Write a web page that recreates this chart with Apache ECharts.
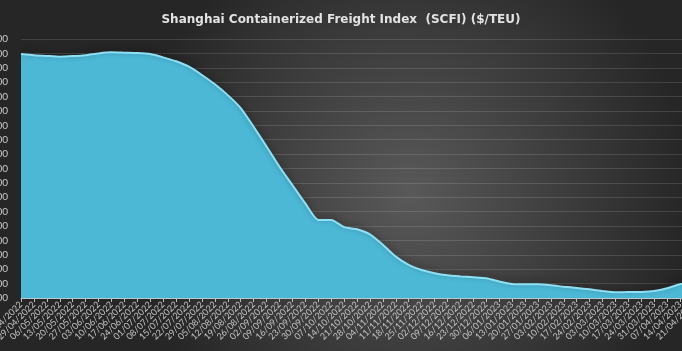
<!DOCTYPE html>
<html>
<head>
<meta charset="utf-8">
<title>SCFI</title>
<script src="https://cdn.jsdelivr.net/npm/echarts@6/dist/echarts.min.js"></script>
<style>
    html, body { margin: 0; padding: 0; background: #2a2a2a; }
    #chart { width: 682px; height: 351px; }
</style>
</head>
<body>
<div id="chart"></div>
<script>
// weekly dates (Friday release)
var dates = ['22/04/2022','29/04/2022','06/05/2022','13/05/2022','20/05/2022','27/05/2022',
    '03/06/2022','10/06/2022','17/06/2022','24/06/2022','01/07/2022','08/07/2022','15/07/2022',
    '22/07/2022','29/07/2022','05/08/2022','12/08/2022','19/08/2022','26/08/2022','02/09/2022',
    '09/09/2022','16/09/2022','23/09/2022','30/09/2022','07/10/2022','14/10/2022','21/10/2022',
    '28/10/2022','04/11/2022','11/11/2022','18/11/2022','25/11/2022','02/12/2022','09/12/2022',
    '16/12/2022','23/12/2022','30/12/2022','06/01/2023','13/01/2023','20/01/2023','27/01/2023',
    '03/02/2023','10/02/2023','17/02/2023','24/02/2023','03/03/2023','10/03/2023','17/03/2023',
    '24/03/2023','31/03/2023','07/04/2023','14/04/2023','21/04/2023'];

// SCFI values ($/TEU)
var scfi = [4192,4175,4164,4155,4162,4175,4200,4215,4210,4205,4190,4145,4090,
    4015,3900,3770,3620,3440,3180,2905,2625,2370,2115,1885,1885,1785,1755,
    1685,1540,1375,1260,1190,1145,1115,1100,1088,1075,1030,995,990,990,
    977,957,940,920,898,880,882,884,897,935,990,1035];

// value axis
var yMin = 800;
var yMax = 4400;
var yStep = 200;

var myChart = echarts.init(document.getElementById('chart'));

var option = {
    backgroundColor: {
        type: 'radial', x: 0.6, y: 0.55, r: 0.8,
        colorStops: [
            { offset: 0, color: '#595959' },
            { offset: 1, color: '#262626' }
        ]
    },
    title: {
        text: 'Shanghai Containerized Freight Index  (SCFI) ($/TEU)',
        left: 'center',
        top: 9,
        textStyle: {
            color: '#e2e2e2',
            fontFamily: 'DejaVu Sans',
            fontWeight: 'bold',
            fontSize: 12
        }
    },
    // plot area runs past the right edge, the picture is cropped there
    grid: {
        left: 21,
        right: -11,
        top: 39,
        bottom: 53,
        outerBoundsMode: 'none'
    },
    xAxis: {
        type: 'category',
        data: dates,
        boundaryGap: false,
        axisLine: { lineStyle: { color: '#b8c8ce', width: 1 } },
        axisTick: { show: true, length: 4, interval: 0, lineStyle: { color: '#b8c0c4' } },
        axisLabel: {
            interval: 0,
            rotate: 45,
            margin: 5,
            color: '#c4c4c4',
            fontSize: 9,
            fontFamily: 'Lato'
        },
        splitLine: { show: false }
    },
    yAxis: {
        type: 'value',
        min: yMin,
        max: yMax,
        interval: yStep,
        axisLine: { show: false },
        axisTick: { show: false },
        axisLabel: {
            margin: 13,
            color: '#c8c8c8',
            fontSize: 10,
            fontFamily: 'Lato'
        },
        splitLine: { lineStyle: { color: 'rgba(255,255,255,0.13)', width: 1 } }
    },
    series: [{
        name: 'SCFI',
        type: 'line',
        data: scfi,
        symbol: 'none',
        smooth: 0.2,
        lineStyle: {
            color: '#8ee0f4',
            width: 2,
            shadowColor: 'rgba(0,0,0,0.45)',
            shadowBlur: 6,
            shadowOffsetY: -2
        },
        areaStyle: {
            color: '#4cb8d6',
            opacity: 1
        }
    }]
};

myChart.setOption(option);
</script>
</body>
</html>
